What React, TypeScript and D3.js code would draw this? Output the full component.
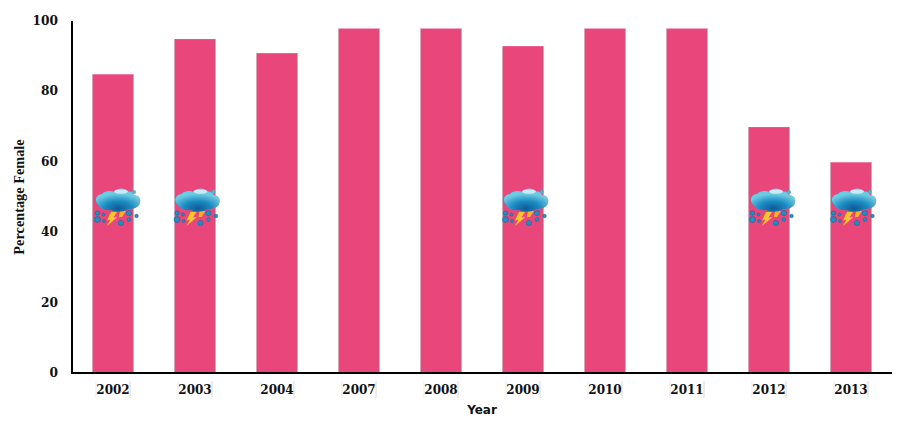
import React from "react";
import { scaleBand, scaleLinear } from "d3";

const years = ["2002", "2003", "2004", "2007", "2008", "2009", "2010", "2011", "2012", "2013"];
const femalePct = [85, 95, 91, 98, 98, 93, 98, 98, 70, 60];
const stormYears = ["2002", "2003", "2009", "2012", "2013"];
const stormNudge = [2.5, 0, 0.5, 1.5, 0.5]; // icons aren't quite aligned to the bars
const yTicks = [0, 20, 40, 60, 80, 100];

const x = scaleBand().domain(years).range([72, 892]).paddingInner(0.5).paddingOuter(0.25);
const y = scaleLinear().domain([0, 100]).range([373.5, 21.5]);

const serif = "'DejaVu Serif', serif";

function StormIcon({ year, nudge }: { year: string; nudge: number }) {
  // local box: origin at the bar's left edge, top of the icon
  return (
    <g transform={`translate(${x(year)! + nudge},188)`}>
      <g fill="#1d8fc2" stroke="#0f5f92" strokeWidth={0.5}>
        <circle cx={2.5} cy={25} r={2.2} />
        <circle cx={8.5} cy={26.5} r={1.5} />
        <circle cx={2.5} cy={31.5} r={3} />
        <circle cx={9} cy={33} r={1.5} />
        <circle cx={26} cy={35} r={2.6} />
        <circle cx={34} cy={25} r={2.6} />
        <circle cx={34} cy={31.5} r={1.8} />
        <circle cx={41.5} cy={28} r={1.8} />
      </g>
      <path d="M16 24 L22 24 L18.5 29.5 L22.5 29 L12 38 L15.5 31.5 L12 32.5 Z" fill="#f6c62c" />
      <path d="M25 23 L31 23 L27 29 L24 29 Z" fill="#f2b51f" />
      <path
        d="M3.5 17 C-1 13 0.5 6.5 7 6 C10 2.5 16 2.5 19 4 C22 -0.5 30 -0.5 33 3.5 C36 3 38 4.5 39 7 C44 7 46.5 11 45 15 C44 20 38 21 33 21 C30 24 21 25 16.5 22 C11 23 6 21 3.5 17 Z"
        fill="url(#stormCloud)"
      />
      <ellipse cx={26} cy={3.6} rx={7} ry={2.2} fill="#d8f0f4" opacity={0.85} />
      <circle cx={39} cy={4} r={2} fill="#4fb3d0" />
    </g>
  );
}

export default function App() {
  return (
    <svg width={900} height={426} style={{ position: "absolute", left: 0, top: 0, background: "#fff" }}>
      <defs>
        <radialGradient id="stormCloud" cx="0.5" cy="0.85" r="0.62">
          <stop offset="0" stopColor="#0e5a98" />
          <stop offset="0.5" stopColor="#1b8bc2" />
          <stop offset="1" stopColor="#6ccbe2" />
        </radialGradient>
      </defs>

      {years.map((yr, i) => (
        <g key={yr}>
          <rect
            x={x(yr)}
            y={y(femalePct[i])}
            width={x.bandwidth()}
            height={y(0) - y(femalePct[i])}
            fill="#e9467c"
          />
          <line x1={x(yr)} x2={x(yr)} y1={y(femalePct[i])} y2={y(0)} stroke="#bdb0b4" strokeWidth={0.8} />
          <line
            x1={x(yr)! + x.bandwidth()}
            x2={x(yr)! + x.bandwidth()}
            y1={y(femalePct[i])}
            y2={y(0)}
            stroke="#bdb0b4"
            strokeWidth={0.8}
          />
        </g>
      ))}

      {stormYears.map((yr, i) => (
        <StormIcon key={yr} year={yr} nudge={stormNudge[i]} />
      ))}

      <line x1={72} x2={72} y1={21} y2={373} stroke="#000" strokeWidth={2} />
      <line x1={71} x2={892} y1={373} y2={373} stroke="#000" strokeWidth={2} />

      {yTicks.map((t) => (
        <text
          key={t}
          x={58}
          y={y(t) - 0.5}
          dy="0.32em"
          textAnchor="end"
          fontFamily={serif}
          fontWeight="bold"
          fontSize={12.2}
          fill="#111"
        >
          {t}
        </text>
      ))}

      {years.map((yr) => {
        const left = x(yr)! + 3.5;
        const right = x(yr)! + 37.5;
        return (
          <g key={yr}>
            <line x1={left} x2={left} y1={381} y2={398} stroke="#e4e4e4" strokeWidth={0.7} />
            <line x1={right} x2={right} y1={381} y2={398} stroke="#c8c8c8" strokeWidth={0.7} />
            <text
              x={x(yr)! + x.bandwidth() / 2}
              y={390.5}
              dy="0.32em"
              textAnchor="middle"
              fontFamily={serif}
              fontWeight="bold"
              fontSize={12}
              fill="#111"
            >
              {yr}
            </text>
          </g>
        );
      })}

      <text x={482} y={413.5} textAnchor="middle" fontFamily="'DejaVu Sans', sans-serif" fontWeight="bold" fontSize={12} fill="#111">
        Year
      </text>
      <text
        transform="translate(23.5,197) rotate(-90)"
        textAnchor="middle"
        fontFamily="'Liberation Serif', serif"
        fontWeight="bold"
        fontSize={14.3}
        fill="#111"
      >
        Percentage Female
      </text>
    </svg>
  );
}
